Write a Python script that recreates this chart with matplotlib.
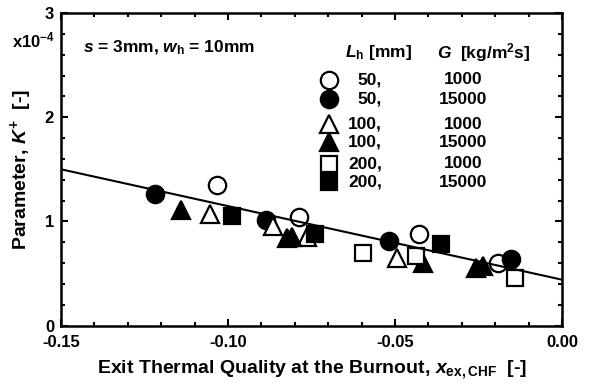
import matplotlib
matplotlib.use("Agg")
import matplotlib.pyplot as plt
from matplotlib.ticker import MultipleLocator

plt.rcParams["font.family"] = ["Liberation Sans", "DejaVu Sans"]
plt.rcParams["font.weight"] = "bold"
plt.rcParams["mathtext.fontset"] = "custom"
plt.rcParams["mathtext.rm"] = "Liberation Sans:bold"
plt.rcParams["mathtext.it"] = "Liberation Sans:italic:bold"
plt.rcParams["mathtext.bf"] = "Liberation Sans:bold"

# Parameter K+ (x1e-4) against exit thermal quality at burnout
x_L50_G1000 = [-0.1033, -0.0787, -0.0428, -0.0192]
y_L50_G1000 = [1.35, 1.04, 0.88, 0.60]
x_L50_G15000 = [-0.1219, -0.0886, -0.0518, -0.0153]
y_L50_G15000 = [1.26, 1.01, 0.81, 0.64]
x_L100_G1000 = [-0.1054, -0.0865, -0.0763, -0.0494]
y_L100_G1000 = [1.07, 0.96, 0.85, 0.65]
x_L100_G15000 = [-0.1141, -0.0823, -0.0808, -0.0416, -0.0257, -0.0237]
y_L100_G15000 = [1.11, 0.84, 0.85, 0.60, 0.55, 0.57]
x_L200_G1000 = [-0.0596, -0.0437, -0.0141]
y_L200_G1000 = [0.70, 0.67, 0.46]
x_L200_G15000 = [-0.0988, -0.0740, -0.0362]
y_L200_G15000 = [1.05, 0.88, 0.78]

# Correlation line end points
fit_x = [-0.15, 0.0]
fit_y = [1.50, 0.44]

legend_L = ["50,", "50,", "100,", "100,", "200,", "200,"]
legend_G = ["1000", "15000", "1000", "15000", "1000", "15000"]

fig = plt.figure(figsize=(5.89, 3.85), dpi=100)
ax = fig.add_axes([0.1036, 0.1545, 0.8506, 0.8115])

series = [
    (x_L50_G1000, y_L50_G1000, "o", "white", 12.5),
    (x_L50_G15000, y_L50_G15000, "o", "black", 12.5),
    (x_L100_G1000, y_L100_G1000, "^", "white", 12.5),
    (x_L100_G15000, y_L100_G15000, "^", "black", 12.5),
    (x_L200_G1000, y_L200_G1000, "s", "white", 12.0),
    (x_L200_G15000, y_L200_G15000, "s", "black", 12.0),
]
for xs, ys, m, fc, ms in series:
    ax.plot(xs, ys, linestyle="none", marker=m, markersize=ms,
            markerfacecolor=fc, markeredgecolor="black",
            markeredgewidth=1.6, zorder=3)

ax.plot(fit_x, fit_y, color="black", linewidth=1.5, zorder=4)

ax.set_xlim(-0.15, 0.0)
ax.set_ylim(0, 3)
ax.xaxis.set_major_locator(MultipleLocator(0.05))
ax.xaxis.set_minor_locator(MultipleLocator(0.01))
ax.yaxis.set_major_locator(MultipleLocator(1))
ax.yaxis.set_minor_locator(MultipleLocator(0.2))
ax.set_xticks([-0.15, -0.10, -0.05, 0.0])
ax.set_xticklabels(["-0.15", "-0.10", "-0.05", "0.00"])
ax.set_yticks([0, 1, 2, 3])
ax.set_yticklabels(["0", "1", "2", "3"])
ax.tick_params(which="both", direction="in", top=True, right=True,
               labelsize=12, width=1.5)
ax.tick_params(axis="x", which="major", pad=7)
ax.tick_params(axis="y", which="major", pad=5)
ax.tick_params(which="major", length=5)
ax.tick_params(which="minor", length=3)
for lab in ax.get_xticklabels() + ax.get_yticklabels():
    lab.set_fontweight("bold")
for sp in ax.spines.values():
    sp.set_linewidth(1.8)

ax.set_xlabel(r"Exit Thermal Quality at the Burnout, $\mathit{x}_{\mathrm{ex,CHF}}$  [-]",
              fontsize=14, fontweight="bold", labelpad=6)
ax.set_ylabel(r"Parameter, $\mathit{K}^{+}$  [-]", fontsize=14,
              fontweight="bold", labelpad=8)

fig.text(0.020, 0.896, r"x10$^{-4}$", fontsize=12, fontweight="bold",
         ha="left", va="center")

ax.text(0.044, 0.888, r"$\mathit{s}$ = 3mm, $\mathit{w}_{\mathrm{h}}$ = 10mm",
        transform=ax.transAxes, fontsize=12.5, fontweight="bold",
        ha="left", va="center")

# Hand-built key
ax.text(0.567, 0.874, r"$\mathit{L}_{\mathrm{h}}$ [mm]", transform=ax.transAxes,
        fontsize=12.5, fontweight="bold", ha="left", va="center")
ax.text(0.750, 0.874, r"$\mathit{G}$  [kg/m$^{2}$s]", transform=ax.transAxes,
        fontsize=12.5, fontweight="bold", ha="left", va="center")
key_rows = [0.786, 0.725, 0.645, 0.587, 0.517, 0.459]
for (xs, ys, m, fc, ms), yk, lt, gt in zip(series, key_rows, legend_L, legend_G):
    ax.plot([0.535], [yk], transform=ax.transAxes, linestyle="none",
            marker=m, markersize=ms, markerfacecolor=fc,
            markeredgecolor="black", markeredgewidth=1.6, clip_on=False)
    ax.text(0.641, yk, lt, transform=ax.transAxes, fontsize=12.5,
            fontweight="bold", ha="right", va="center")
    ax.text(0.802, yk, gt, transform=ax.transAxes, fontsize=12.5,
            fontweight="bold", ha="center", va="center")

fig.savefig("out.png", dpi=100)
